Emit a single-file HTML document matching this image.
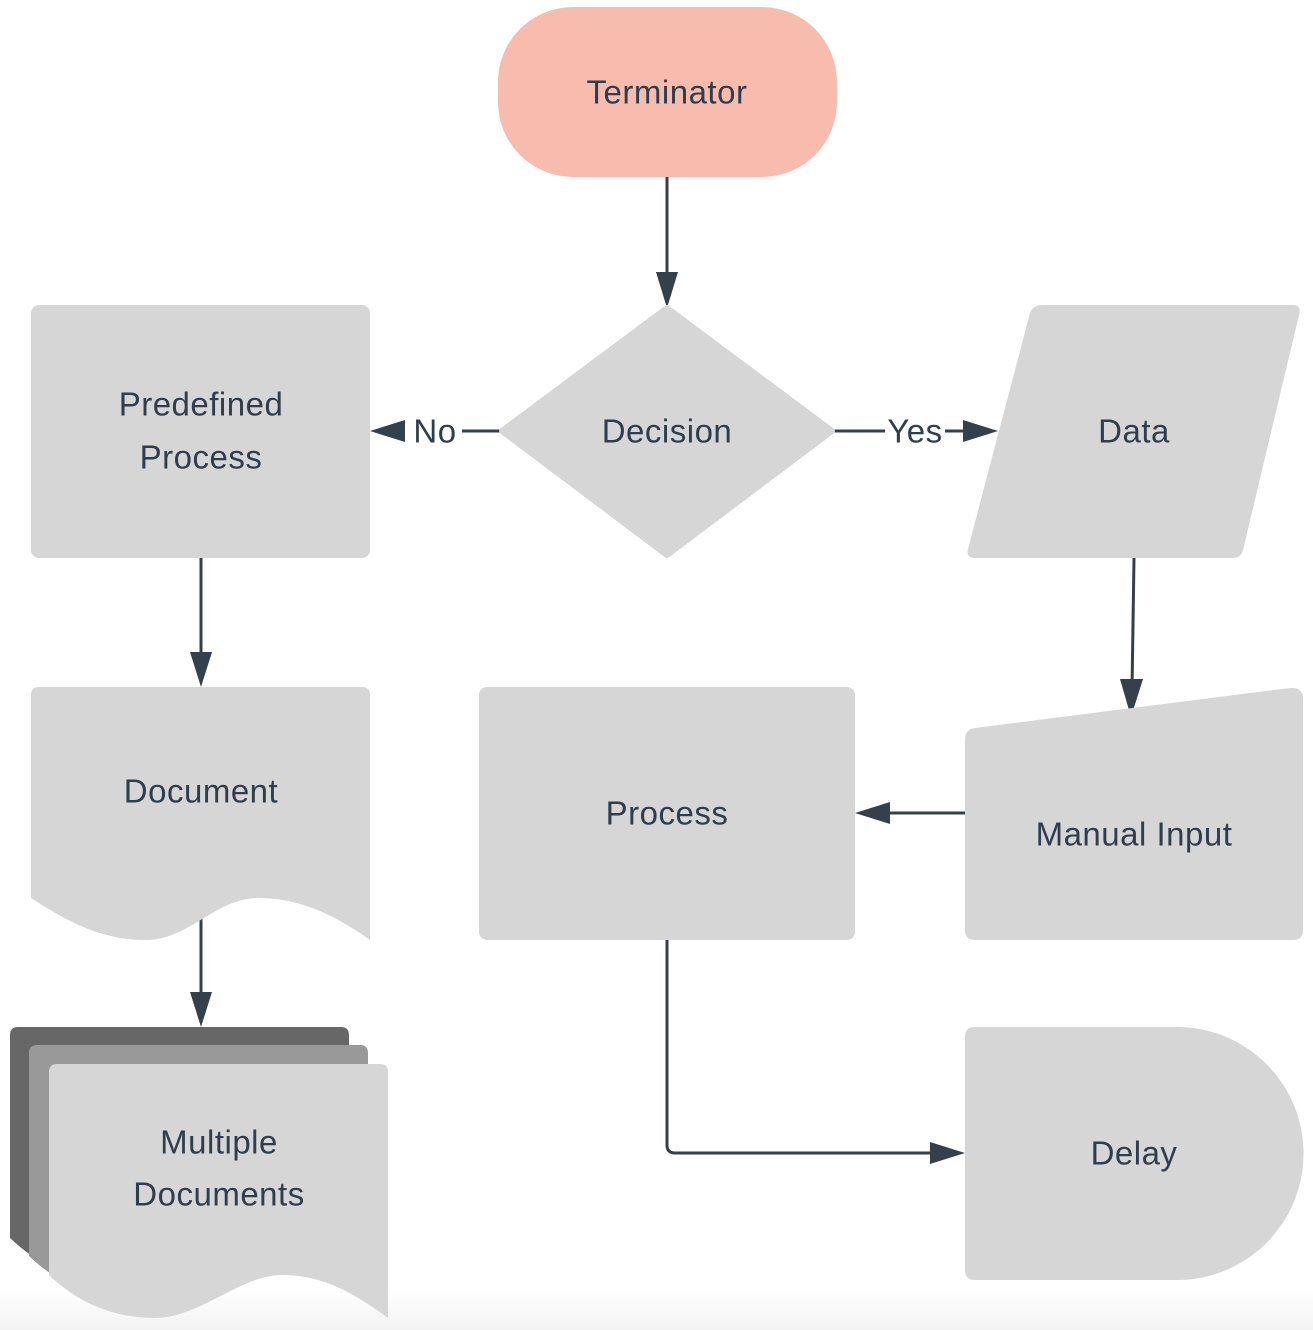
<!DOCTYPE html>
<html><head><meta charset="utf-8"><style>
html,body{margin:0;padding:0;background:#fff;}
svg{display:block;}
text{font-family:"Liberation Sans",sans-serif;font-size:33px;fill:#2f3d4c;text-anchor:middle;dominant-baseline:central;letter-spacing:0.5px;}
</style></head><body>
<svg width="1313" height="1330" viewBox="0 0 1313 1330" xmlns="http://www.w3.org/2000/svg">
<defs>
<linearGradient id="bg" x1="0" y1="0" x2="0" y2="1">
<stop offset="0" stop-color="#fff"/><stop offset="1" stop-color="#f3f3f3"/>
</linearGradient>
<path id="mdoc" d="M57,1064 H380 Q388,1064 388,1072 V1318 C350,1290 320,1275 282,1275 C240,1275 200,1318 155,1318 C110,1318 75,1300 49,1275 V1072 Q49,1064 57,1064 Z"/>
</defs>
<rect x="0" y="1290" width="1313" height="40" fill="url(#bg)"/>
<g stroke="#35404d" stroke-width="3" fill="none">
<line x1="667" y1="177" x2="667" y2="290"/>
<line x1="502" y1="431" x2="462" y2="431"/>
<line x1="405" y1="431" x2="390" y2="431"/>
<line x1="832" y1="431" x2="885" y2="431"/>
<line x1="945" y1="431" x2="975" y2="431"/>
<line x1="1134" y1="558" x2="1132" y2="690"/>
<line x1="965" y1="813" x2="880" y2="813"/>
<line x1="201" y1="558" x2="201" y2="665"/>
<line x1="201" y1="918" x2="201" y2="1005"/>
<path d="M667,940 V1145 Q667,1153 675,1153 H940"/>
</g>
<g fill="#35404d">
<polygon points="656,272 678,272 667,308"/>
<polygon points="405,420 405,442 370,431"/>
<polygon points="963,420 963,442 998,431"/>
<polygon points="1120,679 1143,679 1131,717"/>
<polygon points="890,802 890,824 855,813"/>
<polygon points="190,652 212,652 201,687"/>
<polygon points="190,992 212,992 201,1027"/>
<polygon points="930,1142 930,1164 965,1153"/>
</g>
<rect x="498" y="7" width="339" height="170" rx="75" fill="#f7bcae"/>
<text x="667" y="92">Terminator</text>
<path d="M667,308 L832,431 L667,555 L502,431 Z" fill="#d6d6d6" stroke="#d6d6d6" stroke-width="6" stroke-linejoin="round"/>
<text x="667" y="431">Decision</text>
<text x="435" y="431">No</text>
<text x="915" y="431">Yes</text>
<rect x="31" y="305" width="339" height="253" rx="8" fill="#d6d6d6"/>
<text x="201" y="404">Predefined</text>
<text x="201" y="457">Process</text>
<path d="M1043,305 H1293 Q1302,305 1299,315 L1243,550 Q1241,558 1232,558 H975 Q966,558 968,549 L1030,313 Q1033,305 1043,305 Z" fill="#d6d6d6"/>
<text x="1134" y="431">Data</text>
<path d="M975,728 L1290,688 Q1303,687 1303,699 V930 Q1303,940 1293,940 H975 Q965,940 965,930 V740 Q965,729 975,728 Z" fill="#d6d6d6"/>
<text x="1134" y="834">Manual Input</text>
<rect x="479" y="687" width="376" height="253" rx="8" fill="#d6d6d6"/>
<text x="667" y="813">Process</text>
<path d="M39,687 H362 Q370,687 370,695 V940 C335,915 300,898 258,898 C215,898 190,940 145,940 C100,940 65,920 31,898 V695 Q31,687 39,687 Z" fill="#d6d6d6"/>
<text x="201" y="791">Document</text>
<use href="#mdoc" transform="translate(-39,-37)" fill="#676767"/>
<use href="#mdoc" transform="translate(-20,-19)" fill="#999999"/>
<use href="#mdoc" fill="#d6d6d6"/>
<text x="219" y="1142">Multiple</text>
<text x="219" y="1194">Documents</text>
<path d="M975,1027 H1177 A126.5,126.5 0 0 1 1177,1280 H975 Q965,1280 965,1270 V1037 Q965,1027 975,1027 Z" fill="#d6d6d6"/>
<text x="1134" y="1153">Delay</text>
</svg>
</body></html>
